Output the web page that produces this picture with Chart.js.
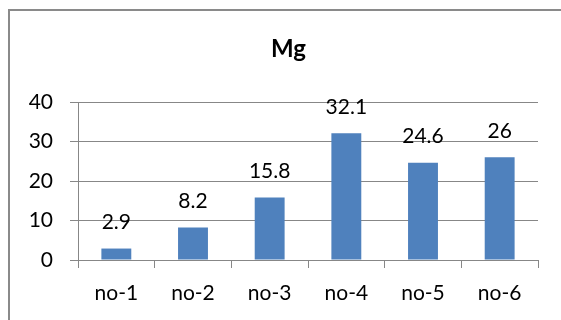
<!DOCTYPE html>
<html>
<head>
<meta charset="utf-8">
<script src="https://cdn.jsdelivr.net/npm/chart.js@4"></script>
<style>
  body{margin:0;background:#fff;}
  .wrap{position:relative;width:561px;height:320px;overflow:hidden;}
  .frame{position:absolute;left:8px;top:9px;width:700px;height:500px;border-left:2px solid #8a8a8a;border-top:2px solid #8a8a8a;}
  canvas{position:absolute;left:0;top:0;}
</style>
</head>
<body>
<div class="wrap">
  <div class="frame"></div>
  <canvas id="myChart" width="561" height="320"></canvas>
</div>
<script>
let categories=["no-1","no-2","no-3","no-4","no-5","no-6"];
let mgValues=[2.9,8.2,15.8,32.1,24.6,26];
let yTicks=[0,10,20,30,40];
let chartTitle="Mg";

let barColor="#4f81bd";
let lineColor="#878787";
let fontName="Lato";

// value labels above the bars
let valueLabels={
    id:"valueLabels",
    afterDatasetsDraw(chart){
        let ctx=chart.ctx;
        let meta=chart.getDatasetMeta(0);
        ctx.save();
        ctx.font="21px "+fontName;
        ctx.fillStyle="#000";
        ctx.textAlign="center";
        ctx.textBaseline="alphabetic";
        meta.data.forEach((bar,i)=>{
            ctx.fillText(String(mgValues[i]),bar.x,bar.y-19.5);
        });
        ctx.restore();
    }
};

// chart title, centred on the whole chart frame like excel does
let titlePlugin={
    id:"frameTitle",
    afterDraw(chart){
        let ctx=chart.ctx;
        ctx.save();
        ctx.font="bold 24px "+fontName;
        ctx.fillStyle="#000";
        ctx.textAlign="center";
        ctx.textBaseline="alphabetic";
        ctx.fillText(chartTitle,288.5,57);
        ctx.restore();
    }
};

var ctx=document.getElementById('myChart').getContext('2d');
new Chart(ctx,{
    type:'bar',
    data:{
        labels:categories,
        datasets:[{
            label:chartTitle,
            data:mgValues,
            backgroundColor:barColor,
            borderWidth:0,
            barPercentage:0.39,
            categoryPercentage:1
        }]
    },
    options:{
        responsive:false,
        animation:false,
        layout:{padding:{left:0,right:23,top:102,bottom:0}},
        plugins:{
            legend:{display:false},
            tooltip:{enabled:false},
            title:{display:false}
        },
        scales:{
            x:{
                offset:true,
                grid:{offset:true,drawOnChartArea:false,drawTicks:true,tickLength:8,color:lineColor,lineWidth:1},
                border:{color:lineColor,width:1},
                ticks:{color:"#000",font:{family:fontName,size:21},padding:13,maxRotation:0},
                afterFit(scale){scale.height=60;}
            },
            y:{
                min:yTicks[0],
                max:yTicks[yTicks.length-1],
                afterBuildTicks(scale){scale.ticks=yTicks.map(v=>({value:v}));},
                grid:{color:lineColor,lineWidth:1,tickLength:8},
                border:{color:lineColor,width:1},
                ticks:{color:"#000",font:{family:fontName,size:21},padding:17},
                afterFit(scale){scale.width=78;}
            }
        }
    },
    plugins:[valueLabels,titlePlugin]
});
</script>
</body>
</html>
